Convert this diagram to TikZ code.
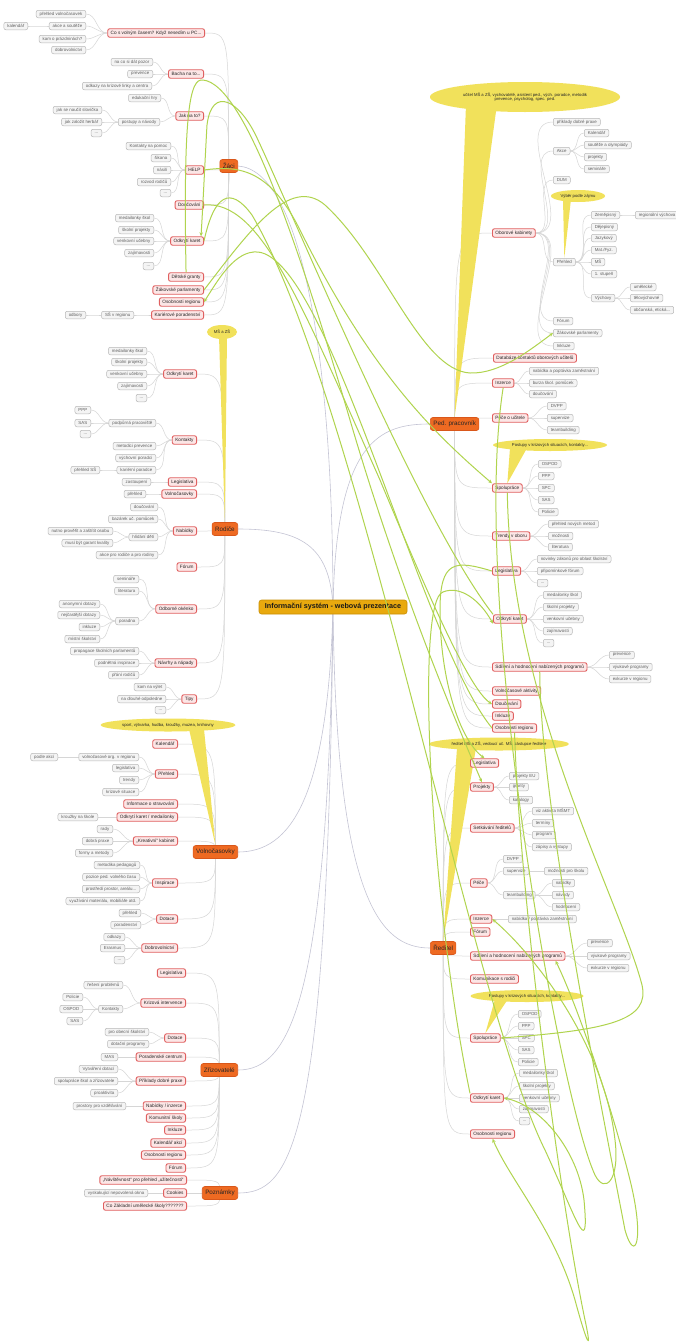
\documentclass[tikz,border=0pt]{standalone}
\usepackage{fontspec}
\setmainfont{Liberation Sans}
\usetikzlibrary{calc,arrows.meta,shapes.geometric}
\pgfdeclarelayer{bg}
\pgfdeclarelayer{fg}
\pgfsetlayers{bg,main,fg}
\definecolor{leafbd}{HTML}{B8B8B8}
\definecolor{leaffill}{HTML}{F4F4F4}
\definecolor{topbd}{HTML}{E06060}
\definecolor{topfill}{HTML}{FCE6E6}
\definecolor{brfill}{HTML}{EE6A22}
\definecolor{brbd}{HTML}{D9571A}
\definecolor{rootfill}{HTML}{E9A90E}
\definecolor{rootbd}{HTML}{C98F05}
\definecolor{callfill}{HTML}{F1E15B}
\definecolor{edgec}{HTML}{D6D6D6}
\definecolor{rootedge}{HTML}{C4C4D4}
\definecolor{relc}{HTML}{B0D44E}
\tikzset{
 leaf/.style={draw=leafbd, fill=leaffill, rounded corners=2pt, line width=0.5pt, text=black!62, font=\fontsize{4.4}{5}\selectfont, inner xsep=3.5pt, inner ysep=0pt, minimum height=7.5pt},
 topic/.style={draw=topbd, fill=topfill, rounded corners=2pt, line width=0.9pt, text=black!85, font=\fontsize{4.7}{5.5}\selectfont, inner xsep=3pt, inner ysep=0pt, minimum height=8.5pt},
 branch/.style={draw=brbd, fill=brfill, rounded corners=2.5pt, line width=0.6pt, text=black!85, font=\fontsize{6.3}{7}\selectfont, inner xsep=3pt, inner ysep=0pt, minimum height=13pt},
 rootnode/.style={draw=rootbd, fill=rootfill, rounded corners=2.5pt, line width=0.6pt, text=black!90, font=\fontsize{7.2}{8}\selectfont\bfseries, inner xsep=4pt, minimum height=14pt, minimum width=148pt},
 edge/.style={draw=edgec, line width=0.5pt},
 redge/.style={draw=rootedge, line width=0.6pt},
 rel/.style={draw=relc, line width=1pt, -{Stealth[length=4pt,width=3.5pt]}},
 callout/.style={fill=callfill, draw=none},
 callnode/.style={ellipse, fill=callfill, draw=none, inner sep=0pt, font=\fontsize{4.2}{4.8}\selectfont, text=black!85, align=center},
 lft/.style={anchor=east}, rgt/.style={anchor=west}
}
\newcommand\edL[2]{\draw[edge] (#1.west) to[out=180,in=0] (#2.east);}
\newcommand\edR[2]{\draw[edge] (#1.east) to[out=0,in=180] (#2.west);}
\newcommand\edBL[2]{\draw[edge] let \p1=(#1.center), \p2=(#2.east) in (\p1) .. controls (\x1,\y2) .. (\p2);}
\newcommand\edBR[2]{\draw[edge] let \p1=(#1.center), \p2=(#2.west) in (\p1) .. controls (\x1,\y2) .. (\p2);}
\begin{document}
\begin{tikzpicture}[x=1pt,y=-1pt]
\useasboundingbox (0,0) rectangle (676,1344);
\begin{pgfonlayer}{bg}\fill[white] (0,0) rectangle (676,1344);\end{pgfonlayer}

% ---------- root and branches
\node[rootnode] (root) at (333,607) {Informační systém - webová prezentace};
\node[branch,lft] (zac) at (238,166) {Žáci};
\node[branch,lft] (rod) at (238,529) {Rodiče};
\node[branch,lft] (vol) at (238,852) {Volnočasovky};
\node[branch,lft] (zri) at (238,1070) {Zřizovatelé};
\node[branch,lft] (poz) at (238,1193) {Poznámky};
\node[branch,rgt] (ped) at (430,424) {Ped. pracovník};
\node[branch,rgt] (red) at (430,948) {Ředitel};

% ---------- callouts
\node[callnode, minimum width=190pt, minimum height=30pt] (c1) at (525,97) {učitel MŠ a ZŠ, vychovatelé, asistent ped., vých. poradce, metodik\\prevence, psycholog, spec. ped.};
\node[callnode, minimum width=54pt, minimum height=12pt] (c2) at (578,196) {Výběr podle zájmu};
\node[callnode, minimum width=114pt, minimum height=12pt] (c3) at (550,445) {Postupy v krizových situacích, kontakty...};
\node[callnode, minimum width=140pt, minimum height=13pt] (c4) at (499,744) {ředitel MŠ a ZŠ, vedoucí uč. MŠ, zástupce ředitele};
\node[callnode, minimum width=113pt, minimum height=12pt] (c5) at (527,996) {Postupy v krizových situacích, kontakty...};
\node[callnode, minimum width=30pt, minimum height=14pt] (c6) at (222,332) {MŠ a ZŠ};
\node[callnode, minimum width=135pt, minimum height=13pt] (c7) at (168,725) {sport, výtvarka, hudba, kroužky, muzea, knihovny};

% ---------- Žáci
\node[topic,lft] (zt1) at (205,33) {Co s volným časem? Když nesedím u PC...};
\node[topic,lft] (zt2) at (204,74) {Bacha na to...};
\node[topic,lft] (zt3) at (204,116) {Jak na to?};
\node[topic,lft] (zt4) at (204,170) {HELP};
\node[topic,lft] (zt5) at (204,205) {Doučování};
\node[topic,lft] (zt6) at (204,241) {Odkrytí karet};
\node[topic,lft] (zt7) at (204,277) {Dětské granty};
\node[topic,lft] (zt8) at (204,290) {Žákovské parlamenty};
\node[topic,lft] (zt9) at (204,302) {Osobnosti regionu};
\node[topic,lft] (zt10) at (204,315) {Kariérové poradenství};
\node[leaf,lft] (za1) at (86,14) {přehled volnočasovek};
\node[leaf,lft] (za2) at (86,26) {akce a soutěže};
\node[leaf,lft] (za3) at (28,26) {kalendář};
\node[leaf,lft] (za4) at (86,39) {kam o prázdninách?};
\node[leaf,lft] (za5) at (86,50) {dobrovolnictví};
\node[leaf,lft] (zb1) at (153,62) {na co si dát pozor};
\node[leaf,lft] (zb2) at (153,74) {prevence};
\node[leaf,lft] (zb3) at (152,86) {odkazy na krizové linky a centra};
\node[leaf,lft] (zc1) at (161,98) {edukační hry};
\node[leaf,lft] (zc2) at (160,122) {postupy a návody};
\node[leaf,lft] (zc3) at (102,110) {jak se naučit slovíčka};
\node[leaf,lft] (zc4) at (102,122) {jak založit herbář};
\node[leaf,lft] (zc5) at (102,133) {...};
\node[leaf,lft] (zd1) at (171,146) {Kontakty na pomoc};
\node[leaf,lft] (zd2) at (171,158) {šikana};
\node[leaf,lft] (zd3) at (171,170) {násilí};
\node[leaf,lft] (zd4) at (171,182) {rozvod rodičů};
\node[leaf,lft] (zd5) at (171,193) {...};
\node[leaf,lft] (ze1) at (154,218) {medailonky škol};
\node[leaf,lft] (ze2) at (154,230) {školní projekty};
\node[leaf,lft] (ze3) at (154,241) {venkovní učebny};
\node[leaf,lft] (ze4) at (154,253) {zajímavosti};
\node[leaf,lft] (ze5) at (154,266) {...};
\node[leaf,lft] (zf1) at (134,315) {SŠ v regionu};
\node[leaf,lft] (zf2) at (86,315) {odbory};

% ---------- Rodiče
\node[topic,lft] (rt1) at (197,374) {Odkrytí karet};
\node[topic,lft] (rt2) at (197,440) {Kontakty};
\node[topic,lft] (rt3) at (197,482) {Legislativa};
\node[topic,lft] (rt4) at (197,494) {Volnočasovky};
\node[topic,lft] (rt5) at (197,531) {Nabídky};
\node[topic,lft] (rt6) at (197,567) {Fórum};
\node[topic,lft] (rt7) at (197,609) {Odborné okénko};
\node[topic,lft] (rt8) at (197,663) {Návrhy a nápady};
\node[topic,lft] (rt9) at (197,699) {Tipy};
\node[leaf,lft] (ra1) at (147,351) {medailonky škol};
\node[leaf,lft] (ra2) at (147,362) {školní projekty};
\node[leaf,lft] (ra3) at (147,374) {venkovní učebny};
\node[leaf,lft] (ra4) at (147,386) {zajímavosti};
\node[leaf,lft] (ra5) at (147,398) {...};
\node[leaf,lft] (rb1) at (156,423) {podpůrná pracoviště};
\node[leaf,lft] (rb2) at (91,410) {PPP};
\node[leaf,lft] (rb3) at (91,423) {SAS};
\node[leaf,lft] (rb4) at (91,434) {...};
\node[leaf,lft] (rb5) at (156,446) {metodici prevence};
\node[leaf,lft] (rb6) at (156,458) {výchovní poradci};
\node[leaf,lft] (rb7) at (156,470) {kariérní poradce};
\node[leaf,lft] (rb8) at (100,470) {přehled SŠ};
\node[leaf,lft] (rc1) at (151,482) {zastoupení};
\node[leaf,lft] (rd1) at (146,494) {přehled};
\node[leaf,lft] (re1) at (158,507) {doučování};
\node[leaf,lft] (re2) at (158,519) {bazárek uč. pomůcek};
\node[leaf,lft] (re3) at (158,537) {hlídání dětí};
\node[leaf,lft] (re4) at (113,531) {nutno prověřit a zaštítit osobu};
\node[leaf,lft] (re5) at (113,543) {musí být garant kvality};
\node[leaf,lft] (re6) at (158,555) {akce pro rodiče a pro rodiny};
\node[leaf,lft] (rf1) at (139,579) {semináře};
\node[leaf,lft] (rf2) at (139,591) {literatura};
\node[leaf,lft] (rf3) at (139,621) {poradna};
\node[leaf,lft] (rf4) at (100,604) {anonymní dotazy};
\node[leaf,lft] (rf5) at (100,615) {nejčastější dotazy};
\node[leaf,lft] (rf6) at (100,627) {inkluze};
\node[leaf,lft] (rf7) at (100,639) {místní školství};
\node[leaf,lft] (rg1) at (139,651) {propagace školních parlamentů};
\node[leaf,lft] (rg2) at (139,663) {podnětná inspirace};
\node[leaf,lft] (rg3) at (139,675) {přání rodičů};
\node[leaf,lft] (rh1) at (166,687) {kam na výlet};
\node[leaf,lft] (rh2) at (166,699) {na dlouhé odpoledne};
\node[leaf,lft] (rh3) at (166,710) {...};

% ---------- Volnočasovky
\node[topic,lft] (vt1) at (178,744) {Kalendář};
\node[topic,lft] (vt2) at (178,774) {Přehled};
\node[topic,lft] (vt3) at (178,804) {Informace o stravování};
\node[topic,lft] (vt4) at (178,817) {Odkrytí karet / medailonky};
\node[topic,lft] (vt5) at (178,841) {„Kreativní“ kabinet};
\node[topic,lft] (vt6) at (178,883) {Inspirace};
\node[topic,lft] (vt7) at (178,919) {Dotace};
\node[topic,lft] (vt8) at (178,948) {Dobrovolnictví};
\node[leaf,lft] (va1) at (139,757) {volnočasové org. v regionu};
\node[leaf,lft] (va2) at (58,757) {podle akcí};
\node[leaf,lft] (va3) at (139,768) {legislativa};
\node[leaf,lft] (va4) at (139,780) {trendy};
\node[leaf,lft] (va5) at (139,792) {krizové situace};
\node[leaf,lft] (vb1) at (98,817) {kroužky na škole};
\node[leaf,lft] (vc1) at (113,829) {rady};
\node[leaf,lft] (vc2) at (113,841) {dobrá praxe};
\node[leaf,lft] (vc3) at (113,853) {formy a metody};
\node[leaf,lft] (vd1) at (140,865) {metodika pedagogů};
\node[leaf,lft] (vd2) at (140,877) {pozice ped. volného času};
\node[leaf,lft] (vd3) at (140,889) {prostředí prostor, areálu...};
\node[leaf,lft] (vd4) at (140,901) {využívání materiálu, mobiliáře atd.};
\node[leaf,lft] (ve1) at (141,913) {přehled};
\node[leaf,lft] (ve2) at (141,925) {poradenství};
\node[leaf,lft] (vf1) at (125,937) {odkazy};
\node[leaf,lft] (vf2) at (125,948) {Erasmus};
\node[leaf,lft] (vf3) at (125,960) {...};

% ---------- Zřizovatelé
\node[topic,lft] (zz1) at (186,973) {Legislativa};
\node[topic,lft] (zz2) at (186,1003) {Krizová intervence};
\node[topic,lft] (zz3) at (186,1038) {Dotace};
\node[topic,lft] (zz4) at (186,1057) {Poradenské centrum};
\node[topic,lft] (zz5) at (186,1081) {Příklady dobré praxe};
\node[topic,lft] (zz6) at (186,1106) {Nabídky / inzerce};
\node[topic,lft] (zz7) at (186,1118) {Komunitní školy};
\node[topic,lft] (zz8) at (186,1130) {Inkluze};
\node[topic,lft] (zz9) at (186,1143) {Kalendář akcí};
\node[topic,lft] (zz10) at (186,1155) {Osobnosti regionu};
\node[topic,lft] (zz11) at (186,1168) {Fórum};
\node[leaf,lft] (ya1) at (123,985) {řešení problémů};
\node[leaf,lft] (ya2) at (123,1009) {Kontakty};
\node[leaf,lft] (ya3) at (83,997) {Policie};
\node[leaf,lft] (ya4) at (83,1009) {OSPOD};
\node[leaf,lft] (ya5) at (83,1021) {SAS};
\node[leaf,lft] (yb1) at (149,1032) {pro obecní školství};
\node[leaf,lft] (yb2) at (149,1044) {dotační programy};
\node[leaf,lft] (yc1) at (118,1057) {MAS};
\node[leaf,lft] (yd1) at (118,1069) {Vytváření dotací};
\node[leaf,lft] (yd2) at (118,1081) {spolupráce škol a zřizovatele};
\node[leaf,lft] (yd3) at (118,1093) {proaktivita};
\node[leaf,lft] (ye1) at (126,1106) {prostory pro vzdělávání};

% ---------- Poznámky
\node[topic,lft] (pn1) at (187,1180) {„Návštěvnost“ pro přehled „užitečnosti“};
\node[topic,lft] (pn2) at (187,1193) {Cookies};
\node[topic,lft] (pn3) at (187,1206) {Co Základní umělecké školy???????};
\node[leaf,lft] (yf1) at (148,1193) {vyskakující nepovolená okna};

% ---------- Ped. pracovník
\node[topic,rgt] (pt1) at (492,233) {Oborové kabinety};
\node[topic,rgt] (pt2) at (493,358) {Databáze kontaktů oborových učitelů};
\node[topic,rgt] (pt3) at (492,383) {Inzerce};
\node[topic,rgt] (pt4) at (492,418) {Péče o učitele};
\node[topic,rgt] (pt5) at (492,488) {Spolupráce};
\node[topic,rgt] (pt6) at (492,536) {Trendy v oboru};
\node[topic,rgt] (pt7) at (492,571) {Legislativa};
\node[topic,rgt] (pt8) at (493,619) {Odkrytí karet};
\node[topic,rgt] (pt9) at (492,667) {Sdílení a hodnocení nabízených programů};
\node[topic,rgt] (pt10) at (492,691) {Volnočasové aktivity};
\node[topic,rgt] (pt11) at (492,704) {Doučování};
\node[topic,rgt] (pt12) at (492,716) {Inkluze};
\node[topic,rgt] (pt13) at (492,728) {Osobnosti regionu};
\node[leaf,rgt] (pa1) at (553,122) {příklady dobré praxe};
\node[leaf,rgt] (pa2) at (553,151) {Akce};
\node[leaf,rgt] (pa3) at (584,133) {Kalendář};
\node[leaf,rgt] (pa4) at (584,145) {soutěže a olympiády};
\node[leaf,rgt] (pa5) at (584,157) {projekty};
\node[leaf,rgt] (pa6) at (584,169) {semináře};
\node[leaf,rgt] (pa7) at (553,180) {DUM};
\node[leaf,rgt] (pa8) at (553,262) {Přehled};
\node[leaf,rgt] (pa9) at (591,215) {Zeměpisný};
\node[leaf,rgt] (pa10) at (635,215) {regionální výchova};
\node[leaf,rgt] (pa11) at (591,227) {Dějepisný};
\node[leaf,rgt] (pa12) at (591,238) {Jazykový};
\node[leaf,rgt] (pa13) at (591,250) {Mat./Fyz.};
\node[leaf,rgt] (pa14) at (591,262) {MŠ};
\node[leaf,rgt] (pa15) at (591,274) {1. stupeň};
\node[leaf,rgt] (pa16) at (591,298) {Výchovy};
\node[leaf,rgt] (pa17) at (630,287) {umělecké};
\node[leaf,rgt] (pa18) at (630,298) {tělovýchovné};
\node[leaf,rgt] (pa19) at (630,310) {občanská, etická...};
\node[leaf,rgt] (pa20) at (553,321) {Fórum};
\node[leaf,rgt] (pa21) at (553,333) {Žákovské parlamenty};
\node[leaf,rgt] (pa22) at (553,346) {Inkluze};
\node[leaf,rgt] (pb1) at (529,371) {nabídka a poptávka zaměstnání};
\node[leaf,rgt] (pb2) at (529,383) {burza škol. pomůcek};
\node[leaf,rgt] (pb3) at (529,394) {doučování};
\node[leaf,rgt] (pc1) at (547,406) {DVPP};
\node[leaf,rgt] (pc2) at (547,418) {supervize};
\node[leaf,rgt] (pc3) at (547,430) {teambuilding};
\node[leaf,rgt] (pd1) at (538,464) {OSPOD};
\node[leaf,rgt] (pd2) at (538,476) {PPP};
\node[leaf,rgt] (pd3) at (538,488) {SPC};
\node[leaf,rgt] (pd4) at (538,500) {SAS};
\node[leaf,rgt] (pd5) at (538,512) {Policie};
\node[leaf,rgt] (pe1) at (548,524) {přehled nových metod};
\node[leaf,rgt] (pe2) at (548,536) {možnosti};
\node[leaf,rgt] (pe3) at (548,547) {literatura};
\node[leaf,rgt] (pf1) at (537,559) {novinky zákonů pro oblast školství};
\node[leaf,rgt] (pf2) at (537,571) {připomínkové fórum};
\node[leaf,rgt] (pf3) at (537,583) {...};
\node[leaf,rgt] (pg1) at (543,595) {medailonky škol};
\node[leaf,rgt] (pg2) at (543,607) {školní projekty};
\node[leaf,rgt] (pg3) at (543,619) {venkovní učebny};
\node[leaf,rgt] (pg4) at (543,631) {zajímavosti};
\node[leaf,rgt] (pg5) at (543,643) {...};
\node[leaf,rgt] (ph1) at (609,655) {prevence};
\node[leaf,rgt] (ph2) at (609,667) {výukové programy};
\node[leaf,rgt] (ph3) at (609,679) {exkurze v regionu};

% ---------- Ředitel
\node[topic,rgt] (rr1) at (470,763) {Legislativa};
\node[topic,rgt] (rr2) at (470,787) {Projekty};
\node[topic,rgt] (rr3) at (470,828) {Setkávání ředitelů};
\node[topic,rgt] (rr4) at (470,883) {Péče};
\node[topic,rgt] (rr5) at (470,919) {Inzerce};
\node[topic,rgt] (rr6) at (470,932) {Fórum};
\node[topic,rgt] (rr7) at (470,956) {Sdílení a hodnocení nabízených programů};
\node[topic,rgt] (rr8) at (470,979) {Komunikace s rodiči};
\node[topic,rgt] (rr9) at (470,1038) {Spolupráce};
\node[topic,rgt] (rr10) at (470,1098) {Odkrytí karet};
\node[topic,rgt] (rr11) at (470,1134) {Osobnosti regionu};
\node[leaf,rgt] (qa1) at (509,776) {projekty EU};
\node[leaf,rgt] (qa2) at (509,787) {granty};
\node[leaf,rgt] (qa3) at (509,800) {katalogy};
\node[leaf,rgt] (qb1) at (532,811) {viz aktivita MŠMT};
\node[leaf,rgt] (qb2) at (532,823) {termíny};
\node[leaf,rgt] (qb3) at (532,835) {program};
\node[leaf,rgt] (qb4) at (532,847) {zápisy a výstupy};
\node[leaf,rgt] (qc1) at (503,859) {DVPP};
\node[leaf,rgt] (qc2) at (503,871) {supervize};
\node[leaf,rgt] (qc3) at (544,871) {možnosti pro školu};
\node[leaf,rgt] (qc4) at (503,895) {teambuilding};
\node[leaf,rgt] (qc5) at (552,883) {nabídky};
\node[leaf,rgt] (qc6) at (552,895) {návody};
\node[leaf,rgt] (qc7) at (552,907) {hodnocení};
\node[leaf,rgt] (qd1) at (508,919) {nabídka / poptávka zaměstnání};
\node[leaf,rgt] (qe1) at (587,943) {prevence};
\node[leaf,rgt] (qe2) at (587,956) {výukové programy};
\node[leaf,rgt] (qe3) at (587,968) {exkurze v regionu};
\node[leaf,rgt] (qf1) at (518,1014) {OSPOD};
\node[leaf,rgt] (qf2) at (518,1026) {PPP};
\node[leaf,rgt] (qf3) at (518,1038) {SPC};
\node[leaf,rgt] (qf4) at (518,1050) {SAS};
\node[leaf,rgt] (qf5) at (518,1062) {Policie};
\node[leaf,rgt] (qg1) at (519,1073) {medailonky škol};
\node[leaf,rgt] (qg2) at (519,1086) {školní projekty};
\node[leaf,rgt] (qg3) at (519,1098) {venkovní učebny};
\node[leaf,rgt] (qg4) at (519,1109) {zajímavosti};
\node[leaf,rgt] (qg5) at (519,1121) {...};

% ---------- grey connectors (background)
\begin{pgfonlayer}{bg}
\draw[redge] (root.center) .. controls (333,350) and (300,170) .. (zac.east);
\draw[redge] (root.center) .. controls (330,545) and (300,529) .. (rod.east);
\draw[redge] (root.center) .. controls (328,800) and (290,852) .. (vol.east);
\draw[redge] (root.center) .. controls (328,1000) and (290,1070) .. (zri.east);
\draw[redge] (root.center) .. controls (328,1150) and (290,1193) .. (poz.east);
\draw[redge] (root.center) .. controls (336,440) and (380,424) .. (ped.west);
\draw[redge] (root.center) .. controls (336,900) and (380,948) .. (red.west);
\foreach \t in {zt1,zt2,zt3,zt4,zt5,zt6,zt7,zt8,zt9,zt10} {\edBL{zac}{\t}}
\foreach \t in {rt1,rt2,rt3,rt4,rt5,rt6,rt7,rt8,rt9} {\edBL{rod}{\t}}
\foreach \t in {vt1,vt2,vt3,vt4,vt5,vt6,vt7,vt8} {\edBL{vol}{\t}}
\foreach \t in {zz1,zz2,zz3,zz4,zz5,zz6,zz7,zz8,zz9,zz10,zz11} {\edBL{zri}{\t}}
\foreach \t in {pn1,pn2,pn3} {\edBL{poz}{\t}}
\foreach \t in {pt1,pt2,pt3,pt4,pt5,pt6,pt7,pt8,pt9,pt10,pt11,pt12,pt13} {\edBR{ped}{\t}}
\foreach \t in {rr1,rr2,rr3,rr4,rr5,rr6,rr7,rr8,rr9,rr10,rr11} {\edBR{red}{\t}}
% left leaves
\foreach \a/\b in {zt1/za1,zt1/za2,za2/za3,zt1/za4,zt1/za5,zt2/zb1,zt2/zb2,zt2/zb3,zt3/zc1,zt3/zc2,zc2/zc3,zc2/zc4,zc2/zc5,
  zt4/zd1,zt4/zd2,zt4/zd3,zt4/zd4,zt4/zd5,zt6/ze1,zt6/ze2,zt6/ze3,zt6/ze4,zt6/ze5,zt10/zf1,zf1/zf2,
  rt1/ra1,rt1/ra2,rt1/ra3,rt1/ra4,rt1/ra5,rt2/rb1,rb1/rb2,rb1/rb3,rb1/rb4,rt2/rb5,rt2/rb6,rt2/rb7,rb7/rb8,rt3/rc1,rt4/rd1,
  rt5/re1,rt5/re2,rt5/re3,re3/re4,re3/re5,rt5/re6,rt7/rf1,rt7/rf2,rt7/rf3,rf3/rf4,rf3/rf5,rf3/rf6,rf3/rf7,rt8/rg1,rt8/rg2,rt8/rg3,rt9/rh1,rt9/rh2,rt9/rh3,
  vt2/va1,va1/va2,vt2/va3,vt2/va4,vt2/va5,vt4/vb1,vt5/vc1,vt5/vc2,vt5/vc3,vt6/vd1,vt6/vd2,vt6/vd3,vt6/vd4,vt7/ve1,vt7/ve2,vt8/vf1,vt8/vf2,vt8/vf3,
  zz2/ya1,zz2/ya2,ya2/ya3,ya2/ya4,ya2/ya5,zz3/yb1,zz3/yb2,zz4/yc1,zz5/yd1,zz5/yd2,zz5/yd3,zz6/ye1,pn2/yf1} {\edL{\a}{\b}}
% right leaves
\foreach \a/\b in {pt1/pa1,pt1/pa2,pa2/pa3,pa2/pa4,pa2/pa5,pa2/pa6,pt1/pa7,pt1/pa8,pa8/pa9,pa9/pa10,pa8/pa11,pa8/pa12,pa8/pa13,pa8/pa14,pa8/pa15,pa8/pa16,pa16/pa17,pa16/pa18,pa16/pa19,pt1/pa20,pt1/pa21,pt1/pa22,
  pt3/pb1,pt3/pb2,pt3/pb3,pt4/pc1,pt4/pc2,pt4/pc3,pt5/pd1,pt5/pd2,pt5/pd3,pt5/pd4,pt5/pd5,pt6/pe1,pt6/pe2,pt6/pe3,pt7/pf1,pt7/pf2,pt7/pf3,
  pt8/pg1,pt8/pg2,pt8/pg3,pt8/pg4,pt8/pg5,pt9/ph1,pt9/ph2,pt9/ph3,
  rr2/qa1,rr2/qa2,rr2/qa3,rr3/qb1,rr3/qb2,rr3/qb3,rr3/qb4,rr4/qc1,rr4/qc2,qc2/qc3,rr4/qc4,qc4/qc5,qc4/qc6,qc4/qc7,rr5/qd1,rr7/qe1,rr7/qe2,rr7/qe3,
  rr9/qf1,rr9/qf2,rr9/qf3,rr9/qf4,rr9/qf5,rr10/qg1,rr10/qg2,rr10/qg3,rr10/qg4,rr10/qg5} {\edR{\a}{\b}}
% callout wedges
\fill[callout] (466,104) -- (497,104) -- (ped.north) -- cycle;
\fill[callout] (563,199) -- (571,199) -- (pa8.north) -- cycle;
\fill[callout] (510,448) -- (527,448) -- (pt5.north) -- cycle;
\fill[callout] (457,748) -- (476,748) -- (red.north) -- cycle;
\fill[callout] (495,999) -- (508,999) -- (rr9.north) -- cycle;
\fill[callout] (219,336) -- (227,336) -- (rod.north) -- cycle;
\fill[callout] (189,729) -- (204,729) -- (vol.north) -- cycle;
\end{pgfonlayer}

% ---------- green relationship lines
\begin{pgfonlayer}{fg}
\draw[rel] (zt7.north) .. controls (183,110) and (190,78) .. (203,80) .. controls (245,84) and (300,250) .. (350,420) .. controls (400,590) and (455,720) .. (rr2.north);
\draw[rel] (pt8.north west) .. controls (420,520) and (300,230) .. (258,140) .. controls (240,100) and (212,85) .. (207,125) .. controls (205,160) and (203,205) .. ($(zt6.north east)+(-3,0)$);
\draw[rel] (zt6.east) .. controls (214,195) and (230,185) .. (252,215) .. controls (360,400) and (470,1000) .. (545,1150) .. controls (575,1215) and (590,1265) .. (584,1200) .. controls (578,1150) and (540,1105) .. (rr10.east);
\draw[rel] (zt8.east) .. controls (250,230) and (290,175) .. (325,205) .. controls (385,260) and (420,370) .. (470,373) .. controls (500,374) and (530,350) .. (pa21.west);
\draw[rel] (pt13.west) .. controls (420,640) and (330,260) .. (258,252) .. controls (235,250) and (218,280) .. (zt9.east);
\draw[rel] (pt13.south) .. controls (520,900) and (560,1200) .. (585,1320) .. controls (592,1352) and (588,1348) .. (575,1300) .. controls (555,1230) and (510,1180) .. (rr11.south);
\draw[rel] (zt4.east) .. controls (240,165) and (270,170) .. (300,230) .. controls (370,370) and (430,430) .. (pt5.north west);
\draw[rel] (pt9.south) .. controls (540,800) and (600,1100) .. (625,1230) .. controls (635,1265) and (645,1240) .. (630,1180) .. controls (610,1100) and (575,1000) .. ($(rr7.south east)+(-10,0)$);
\draw[rel] (pt5.south) .. controls (510,700) and (620,900) .. (642,985) .. controls (650,1020) and (610,1030) .. (rr9.east);
\draw[rel] (pt3.south) .. controls (470,600) and (560,1100) .. (595,1175) .. controls (605,1195) and (620,1180) .. (615,1140) .. controls (605,1050) and (540,960) .. (rr5.east);
\draw[rel] (pt7.west) .. controls (455,560) and (440,560) .. (440,610) .. controls (440,680) and (460,740) .. (rr1.north);
\draw[rel] (rr10.north west) .. controls (430,900) and (415,600) .. (443,592) .. controls (460,585) and (480,600) .. (pt8.south west);
\draw[rel] (zt5.east) .. controls (260,200) and (300,300) .. (380,480) .. controls (430,600) and (470,690) .. (pt11.west);
\end{pgfonlayer}
\end{tikzpicture}
\end{document}
